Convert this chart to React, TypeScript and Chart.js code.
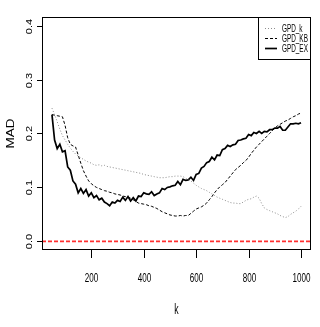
import React, { useEffect, useRef } from "react";
import { Chart, registerables } from "chart.js";

Chart.register(...registerables);

const K_VALUES = [
  50, 60, 70, 80, 90, 100, 110, 120, 130, 140, 150, 160, 170, 180, 190, 200,
  210, 220, 230, 240, 250, 260, 270, 280, 290, 300, 310, 320, 330, 340, 350,
  360, 370, 380, 390, 400, 410, 420, 430, 440, 450, 460, 470, 480, 490, 500,
  510, 520, 530, 540, 550, 560, 570, 580, 590, 600, 610, 620, 630, 640, 650,
  660, 670, 680, 690, 700, 710, 720, 730, 740, 750, 760, 770, 780, 790, 800,
  810, 820, 830, 840, 850, 860, 870, 880, 890, 900, 910, 920, 930, 940, 950,
  960, 970, 980, 990, 1000,
];

const GPD_K = [
  0.247, 0.235, 0.222, 0.208, 0.196, 0.188, 0.18, 0.173, 0.167, 0.162, 0.158,
  0.155, 0.152, 0.149, 0.147, 0.145, 0.142, 0.141, 0.142, 0.14, 0.141, 0.139,
  0.138, 0.137, 0.136, 0.135, 0.134, 0.133, 0.132, 0.131, 0.13, 0.129, 0.128,
  0.127, 0.126, 0.124, 0.123, 0.122, 0.121, 0.12, 0.119, 0.118, 0.118, 0.118,
  0.119, 0.12, 0.12, 0.121, 0.121, 0.121, 0.12, 0.117, 0.114, 0.112, 0.108,
  0.104, 0.101, 0.098, 0.096, 0.094, 0.091, 0.088, 0.085, 0.082, 0.08, 0.078,
  0.076, 0.074, 0.072, 0.071, 0.071, 0.07, 0.07, 0.073, 0.076, 0.078, 0.079,
  0.082, 0.084, 0.08, 0.07, 0.062, 0.059, 0.057, 0.055, 0.053, 0.051, 0.048,
  0.046, 0.044, 0.046, 0.05, 0.053, 0.056, 0.06, 0.065,
];

const GPD_KB = [
  0.235, 0.234, 0.233, 0.232, 0.231, 0.215, 0.192, 0.18, 0.177, 0.175, 0.16,
  0.145, 0.131, 0.121, 0.112, 0.107, 0.103, 0.1, 0.098, 0.096, 0.094, 0.093,
  0.091, 0.09, 0.088, 0.087, 0.086, 0.084, 0.083, 0.082, 0.08, 0.077, 0.074,
  0.071, 0.07, 0.069, 0.068, 0.066, 0.065, 0.063, 0.061, 0.058, 0.055, 0.053,
  0.051, 0.049, 0.048, 0.047, 0.047, 0.048, 0.047, 0.048, 0.048, 0.052, 0.056,
  0.06, 0.062, 0.064, 0.067, 0.071, 0.077, 0.083, 0.09, 0.096, 0.101, 0.105,
  0.109, 0.115, 0.121, 0.127, 0.133, 0.137, 0.141, 0.146, 0.15, 0.156, 0.163,
  0.169, 0.175, 0.18, 0.185, 0.19, 0.195, 0.2, 0.205, 0.21, 0.214, 0.217,
  0.22, 0.223, 0.225, 0.228, 0.231, 0.233, 0.236, 0.238,
];

const GPD_EX = [
  0.235, 0.188, 0.172, 0.18, 0.166, 0.168, 0.138, 0.132, 0.112, 0.106, 0.09,
  0.098, 0.089, 0.096, 0.084, 0.09, 0.081, 0.085, 0.077, 0.08, 0.073, 0.07,
  0.066, 0.073, 0.071, 0.076, 0.074, 0.082, 0.076, 0.083, 0.075, 0.081, 0.075,
  0.084, 0.083, 0.09, 0.088, 0.087, 0.092, 0.085, 0.088, 0.09, 0.098, 0.096,
  0.1, 0.101, 0.103, 0.104, 0.111, 0.105, 0.115, 0.113, 0.114, 0.119, 0.113,
  0.124, 0.126, 0.136, 0.139, 0.146, 0.148, 0.156, 0.151, 0.16, 0.159, 0.17,
  0.172, 0.178, 0.176, 0.179, 0.18, 0.187, 0.188, 0.19, 0.191, 0.198, 0.196,
  0.202, 0.2, 0.204, 0.2, 0.204, 0.203, 0.207, 0.207, 0.21, 0.21, 0.213,
  0.206, 0.206, 0.212, 0.218, 0.218, 0.219, 0.218, 0.22,
];

const SERIES_NAMES = ["GPD_k", "GPD_KB", "GPD_EX"];
const X_TICKS = [200, 400, 600, 800, 1000];
const Y_TICKS = [0.0, 0.1, 0.2, 0.3, 0.4];
const Y_TICK_LABELS = ["0.0", "0.1", "0.2", "0.3", "0.4"];
const X_LIMITS = [12, 1038];
const Y_LIMITS = [-0.016, 0.416];
const REF_VALUE = 0;
const X_TITLE = "k";
const Y_TITLE = "MAD";

const FONT = '"Liberation Sans", Arial, sans-serif';

const styles = [
  { color: "#8c8c8c", dash: [1, 2], width: 1 },
  { color: "#000000", dash: [3, 2], width: 1 },
  { color: "#000000", dash: [], width: 1.7 },
];

const rPlugin = {
  id: "rPlugin",
  afterDatasetsDraw(chart: any) {
    const { ctx, chartArea: a, scales } = chart;
    const xs = scales.x;
    const ys = scales.y;
    ctx.save();

    // box
    ctx.strokeStyle = "#000";
    ctx.lineWidth = 1;
    ctx.setLineDash([]);
    ctx.strokeRect(a.left + 0.5, a.top + 0.5, a.right - a.left - 1, a.bottom - a.top - 1);

    // x ticks
    ctx.fillStyle = "#000";
    ctx.textAlign = "center";
    ctx.textBaseline = "middle";
    X_TICKS.forEach((v) => {
      const px = Math.round(xs.getPixelForValue(v)) + 0.5;
      ctx.beginPath();
      ctx.moveTo(px, a.bottom);
      ctx.lineTo(px, a.bottom + 8);
      ctx.stroke();
      ctx.save();
      ctx.translate(px, 278);
      ctx.scale(0.62, 1);
      ctx.font = `13px ${FONT}`;
      ctx.fillText(String(v), 0, 0);
      ctx.restore();
    });

    // y ticks
    Y_TICKS.forEach((v, i) => {
      const py = Math.round(ys.getPixelForValue(v)) + 0.5;
      ctx.beginPath();
      ctx.moveTo(a.left, py);
      ctx.lineTo(a.left - 5, py);
      ctx.stroke();
      ctx.save();
      ctx.translate(29, py);
      ctx.scale(0.9, 1);
      ctx.rotate(-Math.PI / 2);
      ctx.font = `11px ${FONT}`;
      ctx.fillText(Y_TICK_LABELS[i], 0, 0);
      ctx.restore();
    });

    // titles
    ctx.save();
    ctx.translate((a.left + a.right) / 2, 310);
    ctx.scale(0.62, 1);
    ctx.font = `14px ${FONT}`;
    ctx.fillText(X_TITLE, 0, 0);
    ctx.restore();

    ctx.save();
    ctx.translate(11, (a.top + a.bottom) / 2);
    ctx.scale(0.86, 1);
    ctx.rotate(-Math.PI / 2);
    ctx.font = `13.5px ${FONT}`;
    ctx.fillText(Y_TITLE, 0, 0);
    ctx.restore();

    // legend
    const lx0 = 258.5;
    const ly0 = a.top + 0.5;
    const lw = a.right - 0.5 - lx0;
    const lh = 42;
    ctx.fillStyle = "#fff";
    ctx.fillRect(lx0, ly0, lw, lh);
    ctx.strokeStyle = "#000";
    ctx.lineWidth = 1;
    ctx.strokeRect(lx0, ly0, lw, lh);
    SERIES_NAMES.forEach((name, i) => {
      const yy = Math.round(ly0 + 10.5 + i * 10) + 0.5;
      const st = styles[i];
      ctx.strokeStyle = st.color;
      ctx.lineWidth = st.width;
      ctx.setLineDash(st.dash);
      ctx.beginPath();
      ctx.moveTo(265, yy);
      ctx.lineTo(277, yy);
      ctx.stroke();
      ctx.setLineDash([]);
      ctx.save();
      ctx.fillStyle = "#000";
      ctx.textAlign = "left";
      ctx.translate(282, yy);
      ctx.scale(0.58, 1);
      ctx.font = `11px ${FONT}`;
      ctx.fillText(name, 0, 0);
      ctx.restore();
    });
    ctx.restore();
  },
};

export default function App() {
  const ref = useRef<HTMLCanvasElement | null>(null);
  useEffect(() => {
    if (!ref.current) return;
    const series = [GPD_K, GPD_KB, GPD_EX];
    const datasets: any[] = series.map((vals, i) => ({
      label: SERIES_NAMES[i],
      data: K_VALUES.map((k, j) => ({ x: k, y: vals[j] })),
      borderColor: styles[i].color,
      borderDash: styles[i].dash,
      borderWidth: styles[i].width,
      pointRadius: 0,
      fill: false,
      tension: 0,
    }));
    datasets.push({
      label: "ref",
      data: X_LIMITS.map((x) => ({ x, y: REF_VALUE })),
      borderColor: "#ff3030",
      borderDash: [4, 2],
      borderWidth: 1.6,
      pointRadius: 0,
      fill: false,
      order: -1,
    });
    const chart = new Chart(ref.current, {
      type: "line",
      data: { datasets },
      options: {
        animation: false,
        responsive: false,
        devicePixelRatio: 1,
        layout: { padding: { left: 42, top: 17, right: 9, bottom: 77 } },
        plugins: { legend: { display: false }, tooltip: { enabled: false } },
        scales: {
          x: { type: "linear", min: X_LIMITS[0], max: X_LIMITS[1], display: false },
          y: { type: "linear", min: Y_LIMITS[0], max: Y_LIMITS[1], display: false },
        },
      },
      plugins: [rPlugin],
    });
    return () => chart.destroy();
  }, []);
  return (
    <div style={{ position: "fixed", left: 0, top: 0, width: 320, height: 327, background: "#fff" }}>
      <canvas ref={ref} width={320} height={327} />
    </div>
  );
}
